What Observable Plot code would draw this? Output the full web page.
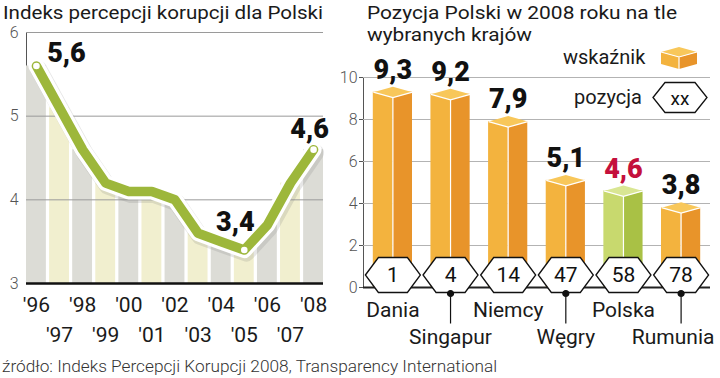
<!DOCTYPE html>
<html><head><meta charset="utf-8">
<script src="https://cdn.jsdelivr.net/npm/d3@7"></script>
<script src="https://cdn.jsdelivr.net/npm/@observablehq/plot@0.6"></script>
<style>
body{margin:0;background:#fff;}
#wrap{position:relative;width:720px;height:378px;overflow:hidden;font-family:Roboto,sans-serif;color:#1a1a1a;background:#fff;}
.t{position:absolute;white-space:nowrap;line-height:1;transform-origin:0 50%;}
#wrap svg{overflow:visible;}
.plot{position:absolute;}
</style></head><body>
<div id="wrap">
  <div class="t fit" data-w="320" style="left:3px;top:4px;font-size:18px">Indeks percepcji korupcji dla Polski</div>
  <div class="t fit" data-w="310" style="left:367px;top:4px;font-size:18px">Pozycja Polski w 2008 roku na tle</div>
  <div class="t fit" data-w="165" style="left:367px;top:26px;font-size:18px">wybranych krajów</div>
  <div class="t" style="left:563px;top:47px;font-size:20px">wskaźnik</div>
  <svg class="plot" style="left:660px;top:46px" width="38" height="24">
    <path d="M1,6 L19,1 L37,6 L19,11 Z" fill="#f8c75a"/>
    <path d="M1,6 L19,11 L19,23 L1,18 Z" fill="#f3b33e"/>
    <path d="M19,11 L37,6 L37,18 L19,23 Z" fill="#e8942a"/>
    <path d="M1,6 L19,11 L37,6 M19,11 L19,23" stroke="#fff" stroke-width="1.2" fill="none"/>
  </svg>
  <div class="t" style="left:574px;top:87px;font-size:20px">pozycja</div>
  <svg class="plot" style="left:651px;top:81px" width="60" height="34">
    <path d="M2,16.5 L14,1.5 L44,1.5 L56,16.5 L44,31.5 L14,31.5 Z" fill="#fff" stroke="#111" stroke-width="1.3"/>
    <text x="29" y="17" text-anchor="middle" dominant-baseline="central" font-family="Roboto" font-size="19" fill="#111">xx</text>
  </svg>
  <div class="t fit" data-w="495" style="left:2px;top:359px;font-size:16px;font-weight:300;color:#333">źródło: Indeks Percepcji Korupcji 2008, Transparency International</div>
  <div id="left" class="plot" style="left:0;top:25px"></div>
  <div id="right" class="plot" style="left:320px;top:40px"></div>
</div>
<script>
// ---------- data: left chart ----------
const years = [1996,1997,1998,1999,2000,2001,2002,2003,2004,2005,2006,2007,2008];
const yearLabels = ["'96","'97","'98","'99","'00","'01","'02","'03","'04","'05","'06","'07","'08"];
const cpi = [5.6,5.1,4.6,4.2,4.1,4.1,4.0,3.6,3.5,3.4,3.7,4.2,4.6];
const highlightYears = [1996,2005,2008];
const highlightLabels = ["5,6","3,4","4,6"];
const leftTicks = [3,4,5,6];

// ---------- data: right chart ----------
const countries = ["Dania","Singapur","Niemcy","Węgry","Polska","Rumunia"];
const scores = [9.3,9.2,7.9,5.1,4.6,3.8];
const scoreLabels = ["9,3","9,2","7,9","5,1","4,6","3,8"];
const ranks = [1,4,14,47,58,78];
const rightTicks = [0,2,4,6,8,10];
const highlightCountry = "Polska";

// ---------- left chart ----------
const leftData = years.map((y,i)=>({year:y, v:cpi[i], label:yearLabels[i], row:i%2}));
const hiData = highlightYears.map((y,i)=>({year:y, v:cpi[years.indexOf(y)], text:highlightLabels[i]}));
const bandGrey = "#dcdcd6", bandYellow = "#f1efcf", green = "#9db73b";
const labelOffsets = [[30,-13],[-9,-28],[-4,-20]];

const left = Plot.plot({
  width:330, height:320, marginLeft:26, marginRight:7, marginTop:7, marginBottom:62,
  style:{fontFamily:"Roboto, sans-serif", fontSize:"16px", fontWeight:300, color:"#555", background:"transparent", overflow:"visible"},
  color:{type:"identity"},
  x:{type:"band", domain:years, paddingInner:0.14, paddingOuter:0, round:false, axis:null},
  y:{domain:[3,6], ticks:leftTicks, tickSize:0, tickPadding:8, line:true, label:null, tickFormat:d=>String(d)},
  marks:[
    Plot.barY(leftData, {x:"year", y1:()=>3, y2:"v", fill:d=>d.row ? bandYellow : bandGrey}),
    Plot.ruleY(leftTicks.slice(1), {stroke:"#9a9a9a", strokeWidth:1}),
    Plot.line(leftData, {x:"year", y:"v", stroke:"#777", strokeOpacity:0.18, strokeWidth:17, dx:2, dy:3, strokeLinejoin:"round", strokeLinecap:"round"}),
    Plot.line(leftData, {x:"year", y:"v", stroke:"#fff", strokeWidth:16, strokeLinejoin:"round", strokeLinecap:"round"}),
    Plot.line(leftData, {x:"year", y:"v", stroke:green, strokeWidth:9.5, strokeLinejoin:"round", strokeLinecap:"round"}),
    Plot.dot(hiData, {x:"year", y:"v", r:3.3, fill:"#fff"}),
    ...hiData.map((d,i)=>Plot.text([d], {x:"year", y:"v", text:"text", dx:labelOffsets[i][0], dy:labelOffsets[i][1], fontSize:27, fontWeight:900, fill:"#111"})),
    Plot.ruleY([3], {stroke:"#111", strokeWidth:2.5}),
    Plot.text(leftData.filter(d=>d.row===0), {x:"year", y:()=>3, text:"label", dy:22, fontSize:21, fontWeight:400, fill:"#1a1a1a"}),
    Plot.text(leftData.filter(d=>d.row===1), {x:"year", y:()=>3, text:"label", dy:52, fontSize:21, fontWeight:400, fill:"#1a1a1a"})
  ]
});
document.getElementById("left").appendChild(left);

// ---------- right chart ----------
const rW = 400, rML = 43, rMR = 10;
const padIn = 0.32, padOut = 0.17;
const bw = d3.scaleBand(countries, [rML, rW - rMR]).paddingInner(padIn).paddingOuter(padOut).bandwidth();
const rd = countries.map((c,i)=>({country:c, score:scores[i], label:scoreLabels[i], rank:ranks[i], row:i%2, hi:c===highlightCountry, last:i===countries.length-1}));
const col = {
  light: d=>d.hi ? "#c8d96e" : "#f3b33e",
  dark:  d=>d.hi ? "#a9c145" : "#e8942a",
  top:   d=>d.hi ? "#d9e693" : "#f8c75a"
};
const h = 5.5;
const diamond = {draw(ctx){ const w=bw/2; ctx.moveTo(-w,0); ctx.lineTo(0,-h); ctx.lineTo(w,0); ctx.lineTo(0,h); ctx.closePath(); }};
const vEdge = {draw(ctx){ const w=bw/2; ctx.moveTo(-w,0); ctx.lineTo(0,h); ctx.lineTo(w,0); }};
const hex = {draw(ctx){ ctx.moveTo(-27.5,0); ctx.lineTo(-14.5,-17.5); ctx.lineTo(14.5,-17.5); ctx.lineTo(27.5,0); ctx.lineTo(14.5,17.5); ctx.lineTo(-14.5,17.5); ctx.closePath(); }};
const pin = {draw(ctx){ ctx.moveTo(3,0); ctx.arc(0,0,3,0,2*Math.PI); ctx.moveTo(0,0); ctx.lineTo(0,30); }};

const right = Plot.plot({
  width:rW, height:310, marginLeft:rML, marginRight:rMR, marginTop:37, marginBottom:63,
  style:{fontFamily:"Roboto, sans-serif", fontSize:"16px", fontWeight:300, color:"#555", background:"transparent", overflow:"visible"},
  color:{type:"identity"},
  x:{type:"band", domain:countries, paddingInner:padIn, paddingOuter:padOut, round:false, axis:null},
  y:{domain:[0,10], ticks:rightTicks, tickSize:4, tickPadding:2, line:true, label:null},
  marks:[
    Plot.ruleY(rightTicks.slice(1), {stroke:"#b3b3b3", strokeWidth:1}),
    Plot.barY(rd, {x:"country", y:"score", fill:col.light, insetRight:bw/2}),
    Plot.barY(rd, {x:"country", y:"score", fill:col.dark, insetLeft:bw/2}),
    Plot.ruleX(rd, {x:"country", y1:()=>0, y2:"score", stroke:"#fff", strokeWidth:1.2}),
    Plot.dot(rd, {x:"country", y:"score", symbol:diamond, fill:col.top, stroke:"none"}),
    Plot.dot(rd, {x:"country", y:"score", symbol:vEdge, fill:"none", stroke:"#fff", strokeWidth:1.2}),
    Plot.text(rd, {x:"country", y:"score", text:"label", dy:-22, fontSize:27, fontWeight:900, fill:d=>d.hi ? "#c4103c" : "#111"}),
    Plot.ruleY([0], {stroke:"#222", strokeWidth:2}),
    Plot.dot(rd, {x:"country", y:()=>0, symbol:hex, dy:-12.5, fill:"#fff", stroke:"#111", strokeWidth:1.3}),
    Plot.text(rd, {x:"country", y:()=>0, text:"rank", dy:-12.5, fontSize:21, fontWeight:400, fill:"#111"}),
    Plot.dot(rd.filter(d=>d.row===1), {x:"country", y:()=>0, symbol:pin, dy:6, fill:"#111", stroke:"#111", strokeWidth:1.2}),
    Plot.text(rd.filter(d=>d.row===0), {x:"country", y:()=>0, text:"country", dy:23, fontSize:21, fontWeight:400, fill:"#1a1a1a"}),
    Plot.text(rd.filter(d=>d.row===1 && !d.last), {x:"country", y:()=>0, text:"country", dy:50, fontSize:21, fontWeight:400, fill:"#1a1a1a"}),
    Plot.text(rd.filter(d=>d.row===1 && d.last), {x:"country", y:()=>0, text:"country", dy:50, dx:-8, fontSize:21, fontWeight:400, fill:"#1a1a1a"})
  ]
});
document.getElementById("right").appendChild(right);

// fit condensed text widths
document.querySelectorAll(".fit").forEach(el=>{
  const w = el.getBoundingClientRect().width;
  const target = +el.dataset.w;
  if (w > 0) el.style.transform = `scaleX(${target / w})`;
});
</script>
</body></html>
